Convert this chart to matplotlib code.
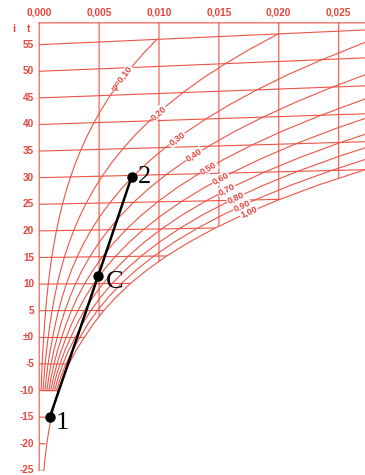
import matplotlib
matplotlib.use("Agg")
import matplotlib.pyplot as plt
import numpy as np
from matplotlib.patches import Polygon

# saturation vapour pressure table, kPa (over ice below 0 degC)
sat_t = [-25, -22.5, -20, -17.5, -15, -12.5, -10, -7.5, -5, -2.5, 0, 2.5, 5, 7.5,
         10, 12.5, 15, 17.5, 20, 22.5, 25, 27.5, 30, 32.5, 35, 37.5, 40, 42.5,
         45, 47.5, 50, 52.5, 55]
sat_p = [0.0635, 0.0811, 0.1035, 0.1307, 0.1653, 0.2079, 0.2600, 0.3237, 0.4018,
         0.4965, 0.6112, 0.7314, 0.8726, 1.0375, 1.2282, 1.4497, 1.7057, 2.0006,
         2.3392, 2.7258, 3.1697, 3.6727, 4.2467, 4.8940, 5.6286, 6.4535, 7.3851,
         8.4232, 9.5898, 10.8852, 12.3520, 13.9630, 15.7520]
P_TOTAL = 101.325

rh_levels = [0.10, 0.20, 0.30, 0.40, 0.50, 0.60, 0.70, 0.80, 0.90, 1.00]
rh_labels = ["φ=0,10", "0,20", "0,30", "0,40", "0,50", "0,60", "0,70", "0,80", "0,90", "1,00"]
rh_label_y = [48.6, 42.2, 37.3, 34.2, 31.8, 29.8, 27.7, 26.2, 24.7, 23.5]

isotherms = [-10, -5, 0, 5, 10, 15, 20, 25, 30, 35, 40, 45, 50, 55]
short_ticks = [-15, -20, -25]
t_ticks = [55, 50, 45, 40, 35, 30, 25, 20, 15, 10, 5, 0, -5, -10, -15, -20, -25]
t_tick_labels = ["55", "50", "45", "40", "35", "30", "25", "20", "15", "10", "5",
                 "±0", "-5", "-10", "-15", "-20", "-25"]
x_grid = [0.000, 0.005, 0.010, 0.015, 0.020, 0.025]
x_tick_labels = ["0,000", "0,005", "0,010", "0,015", "0,020", "0,025"]

process_x = [0.0009, 0.00493, 0.00772]
process_y = [-14.9, 11.6, 30.2]
process_names = ["1", "C", "2"]

RED = "#ec5446"
TXT = "#e5463c"
TOP = 59.1
LW = 0.8


def moisture(phi, p):
    return 0.622 * phi * p / (P_TOTAL - phi * p)


def skew_y(t, x):
    # skewed Mollier ordinate: 0 degC isotherm horizontal
    return t + 1.86 * t * x / 1.006


fig = plt.figure(figsize=(3.65, 4.75), dpi=100)
ax = fig.add_axes([0, 0, 1, 1])
ax.set_xlim(-0.003272, 0.027196)
ax.set_ylim(-25.88, 63.40)
ax.axis("off")

t_arr = np.array(sat_t)
p_arr = np.array(sat_p)

# saturation curve and clip region (unsaturated air)
xs = moisture(1.0, p_arr)
ys = skew_y(t_arr, xs)
verts = [(0, -25), (0, 70), (0.2, 70), (0.2, ys[-1])] + list(zip(xs[::-1], ys[::-1]))
clip = Polygon(verts, closed=True, transform=ax.transData, fc="none", ec="none")
ax.add_patch(clip)

# isotherms
for t in isotherms:
    xx = np.array([0.0, 0.03])
    ln, = ax.plot(xx, skew_y(t, xx), color=RED, lw=LW)
    ln.set_clip_path(clip)
for t in short_ticks:
    xx = np.array([0.0, 0.0005])
    ln, = ax.plot(xx, skew_y(t, xx), color=RED, lw=LW)
    ln.set_clip_path(clip)

# constant moisture lines
for xg in x_grid[1:]:
    ln, = ax.plot([xg, xg], [TOP, -26], color=RED, lw=LW, snap=False)
    ln.set_clip_path(clip)

# frame
ax.plot([0, 0], [-25, TOP], color=RED, lw=LW, snap=False)
ax.plot([0, 0.03], [TOP, TOP], color=RED, lw=LW, snap=False)

# relative humidity curves
for phi, lab, yl in zip(rh_levels, rh_labels, rh_label_y):
    sel = t_arr >= (-25 if phi == 1.0 else -10)
    tt = t_arr[sel]
    xx = moisture(phi, p_arr[sel])
    yy = skew_y(tt, xx)
    ax.plot(xx, yy, color=RED, lw=LW)
    xl = np.interp(yl, yy, xx)
    xa = np.interp(yl - 1.5, yy, xx)
    xb = np.interp(yl + 1.5, yy, xx)
    pa = ax.transData.transform((xa, yl - 1.5))
    pb = ax.transData.transform((xb, yl + 1.5))
    ang = np.degrees(np.arctan2(pb[1] - pa[1], pb[0] - pa[0]))
    ax.text(xl, yl, lab, rotation=ang, rotation_mode="anchor", ha="center", va="center",
            fontsize=6.5, fontweight="bold", color=TXT, family="Liberation Sans",
            bbox=dict(fc="white", ec="none", pad=0.5))

# axis labels
for xg, lab in zip(x_grid, x_tick_labels):
    ax.text(xg, 61.0, lab, ha="center", va="center", fontsize=7.3, fontweight="bold",
            color=TXT, family="Liberation Sans")
for t, lab in zip(t_ticks, t_tick_labels):
    ax.annotate(lab, xy=(0, t), xytext=(-5, 0), textcoords="offset pixels", ha="right",
                va="center", fontsize=7.2, fontweight="bold", color=TXT,
                family="Liberation Sans")
ax.text(-0.002145, 57.95, "i", ha="center", va="center", fontsize=8, fontweight="bold",
        color=TXT, family="Liberation Sans")
ax.text(-0.000851, 57.95, "t", ha="center", va="center", fontsize=7.5, fontweight="bold",
        color=TXT, family="Liberation Sans")

# process line
ax.plot(process_x, process_y, color="black", lw=1.8, marker="o", ms=6.5, zorder=5)
offsets = [(6, -12.6), (8, -12.6), (6, -6.6)]
for x, y, name, off in zip(process_x, process_y, process_names, offsets):
    ax.annotate(name, xy=(x, y), xytext=off, textcoords="offset pixels", ha="left",
                va="baseline", fontsize=19, family="Liberation Serif", color="black",
                zorder=6)

fig.savefig("out.png", dpi=100)
